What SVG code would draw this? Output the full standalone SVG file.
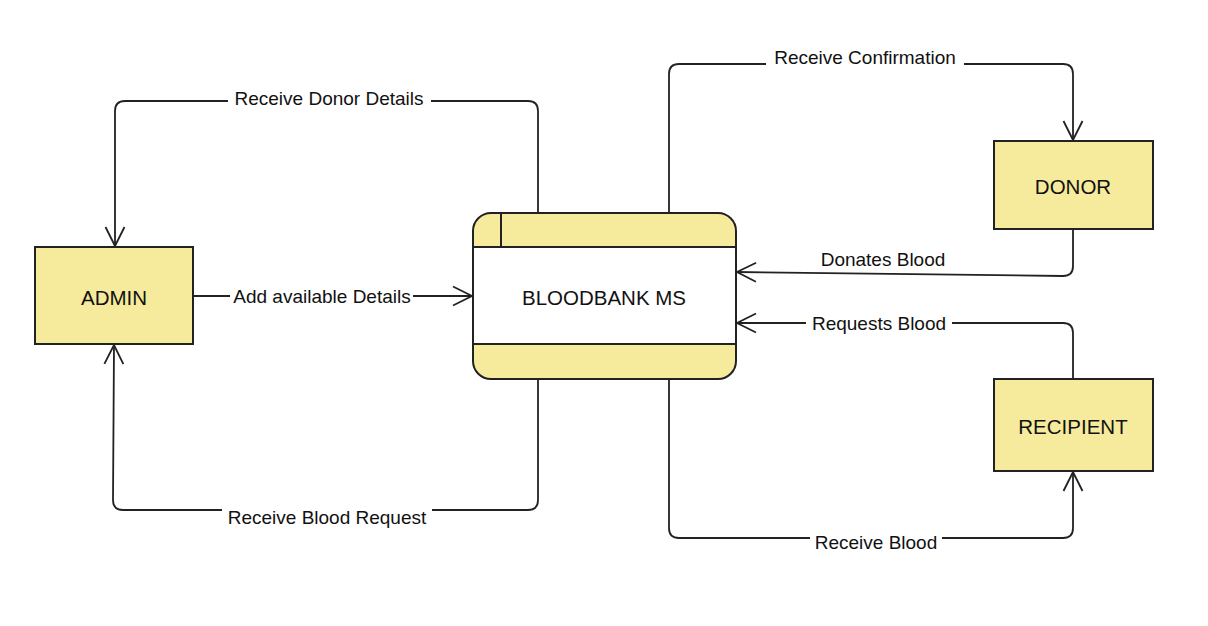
<svg xmlns="http://www.w3.org/2000/svg" width="1208" height="626" viewBox="0 0 1208 626">
<style>
.ext{fill:#f6eb9c;stroke:#222;stroke-width:2}
.node{font-family:"Liberation Sans",Arial,sans-serif;font-size:20.5px;fill:#111;text-anchor:middle;dominant-baseline:central}
.lbl{font-family:"Liberation Sans",Arial,sans-serif;font-size:19px;fill:#111;text-anchor:middle;dominant-baseline:central}
.ln{fill:none;stroke:#222;stroke-width:1.8}
.bg{fill:#fff}
</style>
<defs>
<marker id="arr" viewBox="0 0 22 22" refX="20" refY="11" markerWidth="22" markerHeight="22" markerUnits="userSpaceOnUse" orient="auto">
<path d="M1,1.5 L20,11 L1,20.5" fill="none" stroke="#222" stroke-width="1.8"/>
</marker>
</defs>
<rect width="1208" height="626" fill="#fff"/>
<g id="connectors">
<path class="ln" d="M538,213 V111 Q538,101 528,101 H125 Q115,101 115,111 V246" marker-end="url(#arr)"/>
<path class="ln" d="M193,296 H472" marker-end="url(#arr)"/>
<path class="ln" d="M538,379 V500 Q538,510 528,510 H123 Q113,510 113,500 L114,345" marker-end="url(#arr)"/>
<path class="ln" d="M669,213 V74 Q669,64 679,64 H1063 Q1073,64 1073,74 V140" marker-end="url(#arr)"/>
<path class="ln" d="M1073,229 V266 Q1073,276 1063,276 L737,272" marker-end="url(#arr)"/>
<path class="ln" d="M1073,379 V333 Q1073,323 1063,323 H737" marker-end="url(#arr)"/>
<path class="ln" d="M669,379 V528 Q669,538 679,538 H1063 Q1073,538 1073,528 V472" marker-end="url(#arr)"/>
<rect class="bg" x="228" y="88" width="203" height="22"/>
<text class="lbl" x="329" y="98">Receive Donor Details</text>
<rect class="bg" x="230" y="285" width="183" height="22"/>
<text class="lbl" x="322" y="296">Add available Details</text>
<rect class="bg" x="222" y="506" width="210" height="22"/>
<text class="lbl" x="327" y="517">Receive Blood Request</text>
<rect class="bg" x="766" y="46" width="198" height="22"/>
<text class="lbl" x="865" y="57">Receive Confirmation</text>
<text class="lbl" x="883" y="259">Donates Blood</text>
<rect class="bg" x="806" y="312" width="146" height="22"/>
<text class="lbl" x="879" y="323">Requests Blood</text>
<rect class="bg" x="810" y="531" width="132" height="22"/>
<text class="lbl" x="876" y="542">Receive Blood</text>
</g>
<g id="admin">
<rect class="ext" x="35" y="247" width="158" height="97"/>
<text class="node" x="114" y="297">ADMIN</text>
</g>
<g id="donor">
<rect class="ext" x="994" y="141" width="159" height="88"/>
<text class="node" x="1073" y="186">DONOR</text>
</g>
<g id="recipient">
<rect class="ext" x="994" y="379" width="159" height="92"/>
<text class="node" x="1073" y="426">RECIPIENT</text>
</g>
<g id="bloodbank">
<rect x="473" y="213" width="263" height="166" rx="18" fill="#f6eb9c"/>
<rect x="474" y="247" width="261" height="97" fill="#fff"/>
<line x1="473" y1="247" x2="736" y2="247" stroke="#222" stroke-width="2"/>
<line x1="473" y1="344" x2="736" y2="344" stroke="#222" stroke-width="2"/>
<line x1="501" y1="213" x2="501" y2="247" stroke="#222" stroke-width="2"/>
<rect x="473" y="213" width="263" height="166" rx="18" fill="none" stroke="#222" stroke-width="2"/>
<text class="node" x="604" y="297">BLOODBANK MS</text>
</g>
</svg>
